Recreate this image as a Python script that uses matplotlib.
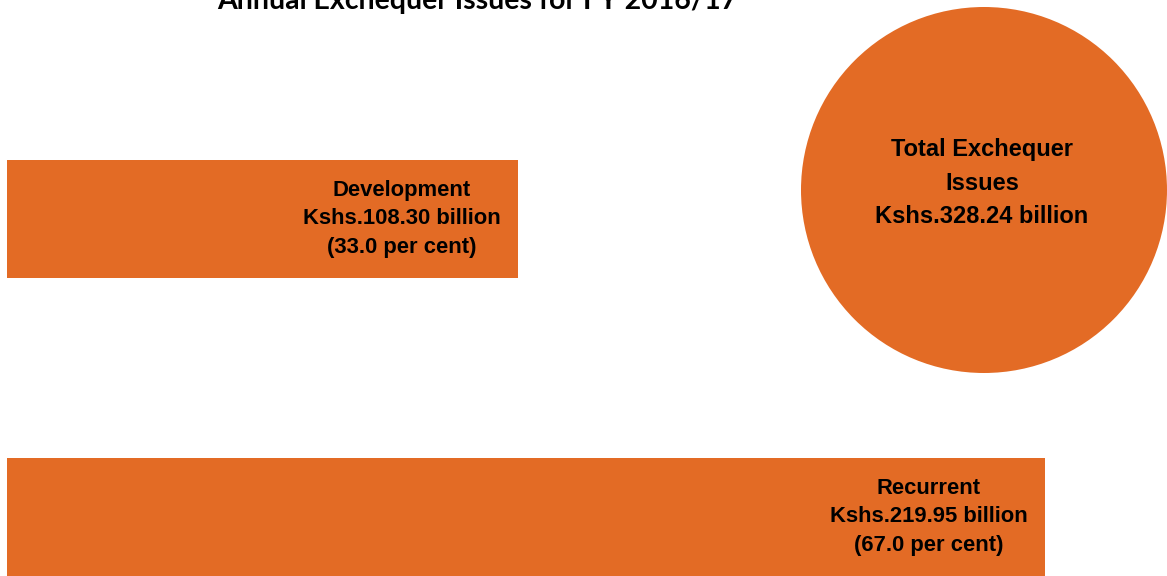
"""Annual Exchequer issues for FY 2016/17: development vs recurrent."""

import matplotlib

matplotlib.use("Agg")
import matplotlib.pyplot as plt
from matplotlib.patches import Circle

TITLE = "Annual Exchequer Issues for FY 2016/17"
categories = ["Development", "Recurrent"]
amounts = [108.30, 219.95]  # Kshs billion
shares = [33.0, 67.0]  # per cent
total = 328.24

ORANGE = "#E36B25"
W, H = 1167, 576
PX_PER_UNIT = 1038 / 219.95
NARROW = ["Liberation Sans Narrow", "Liberation Sans", "DejaVu Sans"]

fig = plt.figure(figsize=(W / 100, H / 100), dpi=100)
fig.patch.set_facecolor("white")

# bars: x in Kshs billion, y in pixel rows
ax = fig.add_axes([0, 0, 1, 1])
ax.set_xlim(-7 / PX_PER_UNIT, (W - 7) / PX_PER_UNIT)
ax.set_ylim(H, 0)
ax.axis("off")

rows = [219, 517]
ax.barh(rows, amounts, height=118, color=ORANGE, edgecolor="none")

for name, amt, pct, row in zip(categories, amounts, shares, rows):
    text = f"{name}\nKshs.{amt:.2f} billion\n({pct:.1f} per cent)"
    ax.annotate(text, xy=(amt, row), xytext=(-116, 0), textcoords="offset pixels",
                ha="center", va="center", linespacing=1.45, family=NARROW,
                fontweight="bold", fontsize=15.8, color="black")

# total circle, drawn in pixel coordinates so it stays round
axc = fig.add_axes([0, 0, 1, 1])
axc.set_xlim(0, W)
axc.set_ylim(H, 0)
axc.axis("off")
axc.patch.set_alpha(0)
axc.add_patch(Circle((984, 190), 183, color=ORANGE, ec="none"))
axc.text(982, 183, f"Total Exchequer\nIssues\nKshs.{total:.2f} billion",
         ha="center", va="center", linespacing=1.6, family=NARROW,
         fontweight="bold", fontsize=17, color="black")

axc.text(477, 9, TITLE, ha="center", va="baseline", family=["Lato", "DejaVu Sans"],
         fontweight="bold", fontsize=20.5, color="black")

fig.savefig("out.png", dpi=100)
